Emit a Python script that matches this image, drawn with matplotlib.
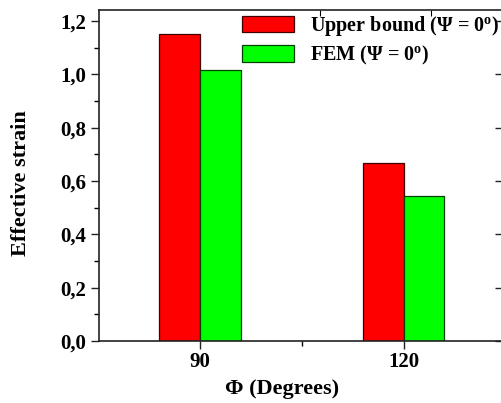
import matplotlib
matplotlib.use("Agg")
import matplotlib.pyplot as plt
from matplotlib.ticker import FuncFormatter, MultipleLocator, FixedLocator

plt.rcParams['font.family'] = ['Liberation Serif', 'DejaVu Serif']
plt.rcParams['font.weight'] = 'bold'
plt.rcParams['mathtext.fontset'] = 'custom'
plt.rcParams['mathtext.rm'] = 'Liberation Serif:bold'
plt.rcParams['mathtext.bf'] = 'Liberation Serif:bold'
plt.rcParams['mathtext.it'] = 'Liberation Serif:bold'

phi = [90, 120]
upper_bound = [1.151, 0.666]
fem = [1.017, 0.545]
series_labels = ['Upper bound (Ψ = 0$^{\\rm o}$)', 'FEM (Ψ = 0$^{\\rm o}$)']
xlabel = 'Φ (Degrees)'
ylabel = 'Effective strain'

W, H = 501, 403
fig = plt.figure(figsize=(W / 100, H / 100), dpi=100)
ax = fig.add_axes([99 / W, 1 - 341 / H, (502 - 99) / W, (341 - 10) / H])

bw = 6.0
ax.bar([p - bw / 2 for p in phi], upper_bound, width=bw, color='#ff0000',
       edgecolor='#400000', linewidth=0.9, label=series_labels[0])
ax.bar([p + bw / 2 for p in phi], fem, width=bw, color='#00ff00',
       edgecolor='#004000', linewidth=0.9, label=series_labels[1])

ax.set_xlim(75.1, 134.5)
ax.set_ylim(0, 1.241)
ax.set_xticks(phi)
ax.xaxis.set_minor_locator(FixedLocator([105]))
ax.yaxis.set_major_locator(MultipleLocator(0.2))
ax.yaxis.set_minor_locator(MultipleLocator(0.1))
ax.yaxis.set_major_formatter(FuncFormatter(lambda v, p: f"{v:.1f}".replace('.', ',')))

ax.tick_params(axis='both', which='major', direction='out', length=5.5, width=1,
               labelsize=15, colors='#222222')
ax.tick_params(axis='both', which='minor', direction='out', length=3.5, width=1)
ax.tick_params(axis='y', which='major', right=True)
ax.tick_params(axis='y', which='minor', right=False)
for lbl in ax.get_xticklabels() + ax.get_yticklabels():
    lbl.set_fontweight('bold')
    lbl.set_color('black')
ax.tick_params(axis='x', pad=2.5)
ax.tick_params(axis='y', pad=4)

# right ticks point inward
for t in ax.yaxis.get_major_ticks():
    t.tick2line.set_marker(0)
    t.tick2line.set_markersize(5)

ax.spines['right'].set_visible(False)
for s in ['left', 'bottom', 'top']:
    ax.spines[s].set_linewidth(1.2)
    ax.spines[s].set_color('#222222')

# top ticks inward
top = ax.secondary_xaxis('top')
top.set_xticks([107.7, 124.1])
top.tick_params(direction='in', length=4, labeltop=False)
top.spines['top'].set_visible(False)

ax.set_xlabel(xlabel, fontsize=16, fontweight='bold')
ax.set_ylabel(ylabel, fontsize=16, fontweight='bold')
ax.xaxis.set_label_coords((282 - 99) / (502 - 99), -(379 - 341) / (341 - 10))
ax.yaxis.set_label_coords(-(99 - 31) / (502 - 99), (341 - 183) / (341 - 10))

leg = ax.legend(loc='upper left', bbox_to_anchor=(240 / W, 1 - 12 / H),
                bbox_transform=fig.transFigure, frameon=False,
                prop={'family': 'Liberation Serif', 'weight': 'bold', 'size': 14.5},
                handlelength=2.6, handleheight=0.9, handletextpad=0.78,
                labelspacing=0.28, borderpad=0.1, borderaxespad=0)

fig.savefig('out.png', dpi=100)
